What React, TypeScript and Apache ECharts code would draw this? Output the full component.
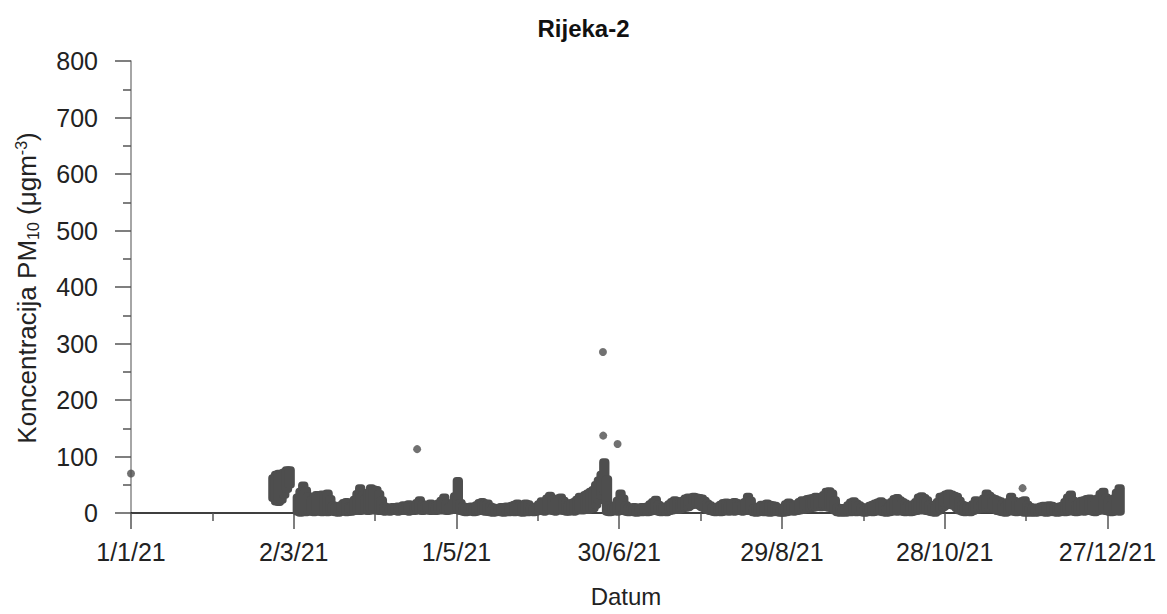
import React, { useEffect, useRef } from "react";
import * as echarts from "echarts";

// Day index 0 = 1 Jan 2021
const FIRST_DAY = 52;
const bandHigh: (number | null)[] = [
  62, 68, 70, 70, 72, 76, 76,
  null, null,
  28, 38, 49, 40, 30, 23, 28, 32, 30, 33,
  30, 35, 25, 14, 12, 11, 14, 18, 20, 12,
  14, 24, 34, 44, 32, 26, 36, 44, 42, 41,
  34, 23, 12, 10, 8, 11, 9, 12, 10, 14,
  12, 16, 11, 14, 18, 23, 16, 13, 15, 17,
  14, 12, 17, 22, 28, 18, 11, 16, 30, 57,
  18, 12, 11, 9, 12, 10, 14, 18, 20, 17,
  17, 12, 10, 8, 9, 11, 10, 12, 9, 13,
  15, 17, 14, 12, 17, 16, 11, 8, 12, 16,
  21, 18, 26, 31, 24, 20, 26, 28, 22, 17,
  15, 18, 20, 24, 29, 25, 32, 35, 38, 41,
  50, 58, 68, 90, 60, 14, 11, 12, 22, 35,
  26, 14, 10, 9, 11, 8, 10, 11, 9, 12,
  16, 20, 24, 15, 11, 12, 11, 16, 20, 23,
  21, 19, 22, 26, 28, 27, 29, 28, 27, 26,
  22, 17, 14, 11, 9, 12, 15, 18, 19, 17,
  18, 20, 18, 16, 15, 20, 29, 22, 8, 10,
  12, 15, 14, 17, 15, 14, 13, 10, 5, 3,
  16, 19, 16, 14, 16, 20, 23, 22, 25, 26,
  27, 29, 28, 27, 32, 38, 39, 35, 23, 10,
  8, 9, 8, 14, 19, 21, 17, 14, 11, 8,
  10, 13, 15, 17, 19, 21, 18, 8, 12, 20,
  25, 27, 23, 20, 17, 14, 14, 16, 20, 28,
  30, 27, 23, 15, 10, 9, 20, 29, 30, 33,
  35, 33, 31, 29, 22, 15, 13, 12, 11, 16,
  23, 18, 14, 26, 35, 31, 27, 25, 23, 21,
  17, 13, 20, 29, 22, 17, 19, 21, 23, 15,
  11, 10, 9, 10, 12, 13, 12, 14, 13, 11,
  11, 12, 13, 20, 28, 33, 22, 14, 18, 22,
  23, 25, 26, 23, 20, 26, 34, 38, 28, 23,
  14, 26, 36, 44,
];
const bandLow: (number | null)[] = [
  26, 20, 19, 23, 32, 42, 50,
  null, null,
  2, 0, 2, 1, 3, 2, 1, 3, 2, 1,
  2, 1, 3, 2, 1, 0, 2, 3, 1, 2,
  2, 3, 4, 3, 5, 4, 3, 6, 4, 5,
  3, 4, 2, 3, 2, 4, 3, 2, 3, 4,
  3, 2, 4, 3, 5, 4, 3, 4, 5, 3,
  4, 3, 5, 4, 6, 3, 4, 5, 6, 8,
  3, 2, 1, 2, 3, 1, 2, 3, 4, 2,
  2, 1, 0, 1, 2, 1, 0, 2, 1, 2,
  1, 2, 1, 0, 2, 1, 2, 1, 2, 3,
  3, 2, 4, 5, 3, 2, 4, 5, 3, 2,
  2, 3, 2, 4, 5, 4, 6, 5, 7, 8,
  14, 22, 30, 38, 2, 1, 2, 3, 2, 4,
  3, 2, 1, 2, 1, 0, 2, 1, 2, 1,
  2, 3, 4, 2, 1, 2, 1, 3, 4, 5,
  5, 6, 8, 9, 10, 13, 15, 15, 13, 10,
  8, 5, 3, 2, 1, 2, 1, 2, 3, 2,
  3, 2, 4, 3, 2, 3, 4, 3, 1, 0,
  1, 2, 1, 2, 0, 1, 2, 1, 0, 0,
  1, 2, 3, 2, 3, 4, 5, 6, 7, 8,
  9, 10, 11, 10, 11, 10, 9, 8, 4, 1,
  0, 1, 0, 2, 1, 2, 1, 2, 1, 0,
  1, 2, 1, 2, 3, 2, 1, 0, 1, 2,
  3, 2, 3, 2, 1, 2, 1, 2, 3, 4,
  5, 4, 3, 2, 1, 0, 3, 6, 10, 13,
  15, 14, 12, 8, 4, 2, 1, 2, 1, 3,
  5, 6, 7, 8, 7, 8, 7, 6, 3, 2,
  1, 0, 2, 3, 2, 1, 2, 3, 0, 1,
  0, 1, 0, 1, 2, 1, 0, 1, 2, 1,
  0, 1, 2, 1, 2, 3, 2, 1, 2, 3,
  2, 3, 4, 2, 1, 3, 4, 5, 3, 2,
  1, 2, 4, 2,
];
const outlierDays = [0, 105.5, 174, 174.1, 179.4, 328.7];
const outlierValues = [70, 113, 285, 137, 122, 44];

const majorTickDays = [0, 60, 120, 180, 240, 300, 360];
const minorTickDays = [30, 90, 150, 210, 270, 330];

const DOT = "#4e4e4e";
const FONT = "'Liberation Sans', Arial, sans-serif";

function dayLabel(v: number): string {
  const d = new Date(2021, 0, 1 + Math.round(v));
  return `${d.getDate()}/${d.getMonth() + 1}/${String(d.getFullYear()).slice(2)}`;
}

export default function App() {
  const ref = useRef<HTMLDivElement>(null);
  useEffect(() => {
    if (!ref.current) return;
    const chart = echarts.init(ref.current, null, { renderer: "svg" });
    const band: number[][] = [];
    for (let i = 0; i < bandHigh.length; i++) {
      const h = bandHigh[i];
      const l = bandLow[i];
      if (h == null || l == null) continue;
      band.push([FIRST_DAY + i, l, h]);
    }
    const outliers = outlierDays.map((d, i) => [d, outlierValues[i]]);
    const r = 3.8;
    chart.setOption({
      animation: false,
      backgroundColor: "#ffffff",
      title: {
        text: "Rijeka-2",
        left: "center",
        top: 11,
        textStyle: { fontFamily: FONT, fontSize: 24, fontWeight: "bold", color: "#111" },
      },
      grid: { left: 131, right: 46, top: 61, bottom: 101 },
      graphic: [
        {
          type: "text",
          x: 27,
          y: 288,
          rotation: Math.PI / 2,
          style: {
            text: "{m|Koncentracija PM}{s|10}{m| (μgm}{p|-3}{m|)}",
            align: "center",
            verticalAlign: "middle",
            fill: "#222",
            rich: {
              m: { fontFamily: FONT, fontSize: 26, lineHeight: 34, verticalAlign: "middle", fill: "#222" },
              s: { fontFamily: FONT, fontSize: 16, lineHeight: 34, verticalAlign: "bottom", padding: [0, 0, 3, 0], fill: "#222" },
              p: { fontFamily: FONT, fontSize: 16, lineHeight: 34, verticalAlign: "top", padding: [3, 0, 0, 0], fill: "#222" },
            },
          },
        },
      ],
      xAxis: [
        {
          type: "value",
          min: 0,
          max: 365,
          interval: 60,
          position: "bottom",
          name: "Datum",
          nameLocation: "middle",
          nameGap: 71,
          nameTextStyle: { fontFamily: FONT, fontSize: 24, color: "#222" },
          axisLine: { show: true, onZero: false, lineStyle: { color: "#000", width: 1.5 } },
          axisTick: { show: true, customValues: majorTickDays, length: 16, lineStyle: { color: "#555", width: 1.5 } },
          axisLabel: {
            customValues: majorTickDays,
            formatter: (v: number) => dayLabel(v),
            fontFamily: FONT,
            fontSize: 25,
            color: "#222",
            margin: 26,
          },
          splitLine: { show: false },
        },
        {
          type: "value",
          min: 0,
          max: 365,
          interval: 60,
          position: "bottom",
          axisLine: { show: false },
          axisTick: { show: true, customValues: minorTickDays, length: 8, lineStyle: { color: "#555", width: 1.5 } },
          axisLabel: { show: false },
          splitLine: { show: false },
        },
      ],
      yAxis: {
        type: "value",
        min: 0,
        max: 800,
        interval: 100,
        axisLine: { show: true, lineStyle: { color: "#888", width: 1.5 } },
        axisTick: { show: true, length: 16, lineStyle: { color: "#555", width: 1.5 } },
        minorTick: { show: true, splitNumber: 2, length: 8, lineStyle: { color: "#555", width: 1.5 } },
        axisLabel: { fontFamily: FONT, fontSize: 25, color: "#222", margin: 33 },
        splitLine: { show: false },
      },
      series: [
        {
          type: "custom",
          xAxisIndex: 0,
          data: band,
          encode: { x: 0, y: [1, 2] },
          renderItem: (params: any, api: any) => {
            const d = api.value(0);
            const lo = api.value(1);
            const hi = api.value(2);
            const a = api.coord([d, hi]);
            const b = api.coord([d + 1, lo]);
            return {
              type: "rect",
              shape: {
                x: a[0] - r,
                y: a[1] - r,
                width: b[0] - a[0] + 2 * r,
                height: b[1] - a[1] + 2 * r,
                r: r,
              },
              style: { fill: DOT },
            };
          },
          z: 3,
        },
        {
          type: "scatter",
          xAxisIndex: 0,
          data: outliers,
          symbol: "circle",
          symbolSize: 8,
          itemStyle: { color: DOT },
          clip: false,
          z: 3,
        },
      ],
    });
    return () => chart.dispose();
  }, []);
  return (
    <div
      ref={ref}
      style={{ position: "absolute", left: 0, top: 0, width: 1167, height: 614 }}
    />
  );
}
